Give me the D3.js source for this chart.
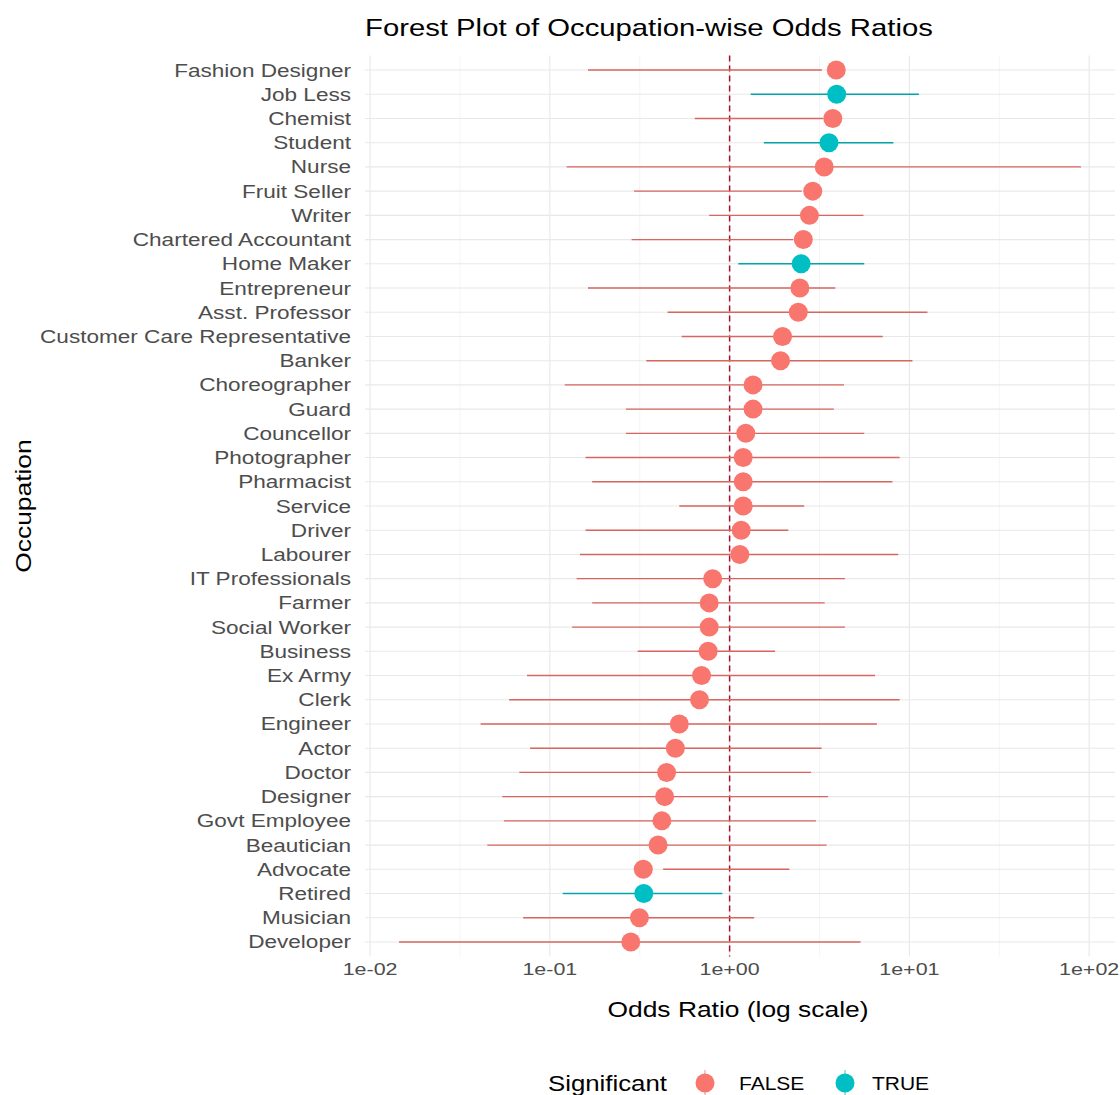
<!DOCTYPE html>
<html>
<head>
<meta charset="utf-8">
<script src="https://cdn.jsdelivr.net/npm/d3@7"></script>
<style>
  html, body { margin: 0; padding: 0; background: #fff; }
  svg { display: block; font-family: "Liberation Sans", Arial, sans-serif; }
</style>
</head>
<body>
<svg id="chart" width="1120" height="1095"></svg>
<script>
// ---- Data (top to bottom) ----
const occupations = ["Fashion Designer","Job Less","Chemist","Student","Nurse","Fruit Seller","Writer",
  "Chartered Accountant","Home Maker","Entrepreneur","Asst. Professor","Customer Care Representative",
  "Banker","Choreographer","Guard","Councellor","Photographer","Pharmacist","Service","Driver","Labourer",
  "IT Professionals","Farmer","Social Worker","Business","Ex Army","Clerk","Engineer","Actor","Doctor",
  "Designer","Govt Employee","Beautician","Advocate","Retired","Musician","Developer"];
const oddsRatio = [3.92,3.94,3.75,3.57,3.36,2.90,2.78,2.57,2.50,2.46,2.41,1.97,1.92,1.35,1.35,1.23,1.19,1.19,
  1.19,1.16,1.14,0.805,0.77,0.77,0.76,0.698,0.68,0.525,0.499,0.446,0.435,0.42,0.40,0.331,0.333,0.315,0.282];
const ciLower = [0.163,1.31,0.64,1.55,0.124,0.294,0.77,0.285,1.118,0.163,0.452,0.541,0.344,0.121,0.265,0.265,
  0.158,0.172,0.525,0.158,0.147,0.141,0.172,0.133,0.308,0.0747,0.0594,0.0412,0.0776,0.0676,0.0544,0.0555,
  0.0449,0.427,0.118,0.071,0.0145];
const ciUpper = [3.26,11.3,3.31,8.15,90,2.52,5.55,2.26,5.61,3.87,12.6,7.11,10.4,4.33,3.8,5.61,8.83,8.05,2.6,
  2.12,8.67,4.38,3.38,4.38,1.79,6.44,8.83,6.6,3.25,2.84,3.53,3.02,3.46,2.15,0.911,1.37,5.35];
const significant = [false,true,false,true,false,false,false,false,true,false,false,false,false,false,false,
  false,false,false,false,false,false,false,false,false,false,false,false,false,false,false,false,false,false,
  false,true,false,false];
const xTickValues = [1e-2, 1e-1, 1e0, 1e1, 1e2];
const xTickLabels = ["1e-02","1e-01","1e+00","1e+01","1e+02"];
const legendLevels = ["FALSE","TRUE"];

const rows = occupations.map((o,i)=>({occ:o, or:oddsRatio[i], lo:ciLower[i], hi:ciUpper[i], sig:significant[i]}));

// ---- Layout ----
const svg = d3.select("#chart");
const panel = {left:365, right:1115, top:55.5, bottom:956.5};
const SX = 1.22; // horizontal glyph stretch seen in the reference

const lmin = Math.log10(d3.min(ciLower)), lmax = Math.log10(d3.max(ciUpper));
const pad = (lmax - lmin) * 0.05;
const x = d3.scaleLog().domain([Math.pow(10, lmin - pad), Math.pow(10, lmax + pad)])
  .range([panel.left, panel.right]);
const y = d3.scalePoint().domain(occupations).range([panel.top, panel.bottom]).padding(0.6);
const color = d3.scaleOrdinal().domain([false,true]).range(["#F8766D","#00BFC4"]);

function stretchedText(g, xx, yy, txt, opts) {
  const t = g.append("text")
    .attr("transform", `translate(${xx},${yy}) scale(${opts.sx || SX},1)`)
    .attr("font-size", opts.size)
    .attr("fill", opts.fill || "#000")
    .attr("text-anchor", opts.anchor || "start")
    .text(txt);
  if (opts.rotate) t.attr("transform", `translate(${xx},${yy}) rotate(-90) scale(${opts.sx || SX},1)`);
  return t;
}

// ---- Grid ----
const grid = svg.append("g");
const minor = [-1.5,-0.5,0.5,1.5].map(e => Math.pow(10, e));
grid.selectAll("line.minor").data(minor).join("line")
  .attr("x1", d=>x(d)).attr("x2", d=>x(d)).attr("y1", panel.top).attr("y2", panel.bottom)
  .attr("stroke", "#F2F2F2").attr("stroke-width", 0.8);
grid.selectAll("line.vmaj").data(xTickValues).join("line")
  .attr("x1", d=>x(d)).attr("x2", d=>x(d)).attr("y1", panel.top).attr("y2", panel.bottom)
  .attr("stroke", "#E8E8E8").attr("stroke-width", 1.1);
grid.selectAll("line.hmaj").data(occupations).join("line")
  .attr("x1", panel.left).attr("x2", panel.right).attr("y1", d=>y(d)).attr("y2", d=>y(d))
  .attr("stroke", "#E8E8E8").attr("stroke-width", 1.1);

// ---- Reference line at OR = 1 ----
svg.append("line")
  .attr("x1", x(1)).attr("x2", x(1)).attr("y1", panel.top).attr("y2", panel.bottom)
  .attr("stroke", "#A3122A").attr("stroke-width", 1.5).attr("stroke-dasharray", "6,4");

// ---- Error bars & points ----
const marks = svg.append("g");
marks.selectAll("line.ci").data(rows).join("line")
  .attr("x1", d=>x(d.lo)).attr("x2", d=>x(d.hi)).attr("y1", d=>y(d.occ)).attr("y2", d=>y(d.occ))
  .attr("stroke", d=>d3.color(color(d.sig)).darker(0.4)).attr("stroke-width", 1.4);
marks.selectAll("circle").data(rows).join("circle")
  .attr("cx", d=>x(d.or)).attr("cy", d=>y(d.occ)).attr("r", 9.5)
  .attr("fill", d=>color(d.sig));

// ---- Y axis labels ----
const yl = svg.append("g");
occupations.forEach(o => stretchedText(yl, 351, y(o) + 6.5, o, {size:18.5, fill:"#4D4D4D", anchor:"end"}));

// ---- X axis labels ----
const xl = svg.append("g");
xTickValues.forEach((v,i) => stretchedText(xl, x(v), 975, xTickLabels[i], {size:16.5, fill:"#4D4D4D", anchor:"middle", sx:1.3}));

// ---- Titles ----
stretchedText(svg, 738, 1017, "Odds Ratio (log scale)", {size:22, anchor:"middle", sx:1.2});
stretchedText(svg, 31, (panel.top+panel.bottom)/2, "Occupation", {size:22, anchor:"middle", rotate:true, sx:1.2});
stretchedText(svg, panel.left, 36, "Forest Plot of Occupation-wise Odds Ratios", {size:24, sx:1.22});

// ---- Legend ----
const lg = svg.append("g");
stretchedText(lg, 548, 1091, "Significant", {size:21.5, sx:1.2});
const keyX = [705, 845];
const labX = [739, 872];
legendLevels.forEach((lab,i) => {
  const c = color(lab === "TRUE");
  lg.append("line").attr("x1", keyX[i]).attr("x2", keyX[i]).attr("y1", 1070).attr("y2", 1096)
    .attr("stroke", d3.color(c).darker(0.35)).attr("stroke-width", 1.2).attr("opacity", 0.6);
  lg.append("circle").attr("cx", keyX[i]).attr("cy", 1083).attr("r", 9.5).attr("fill", c);
  stretchedText(lg, labX[i], 1090, lab, {size:17.5, fill:"#000", sx:1.2});
});
</script>
</body>
</html>
